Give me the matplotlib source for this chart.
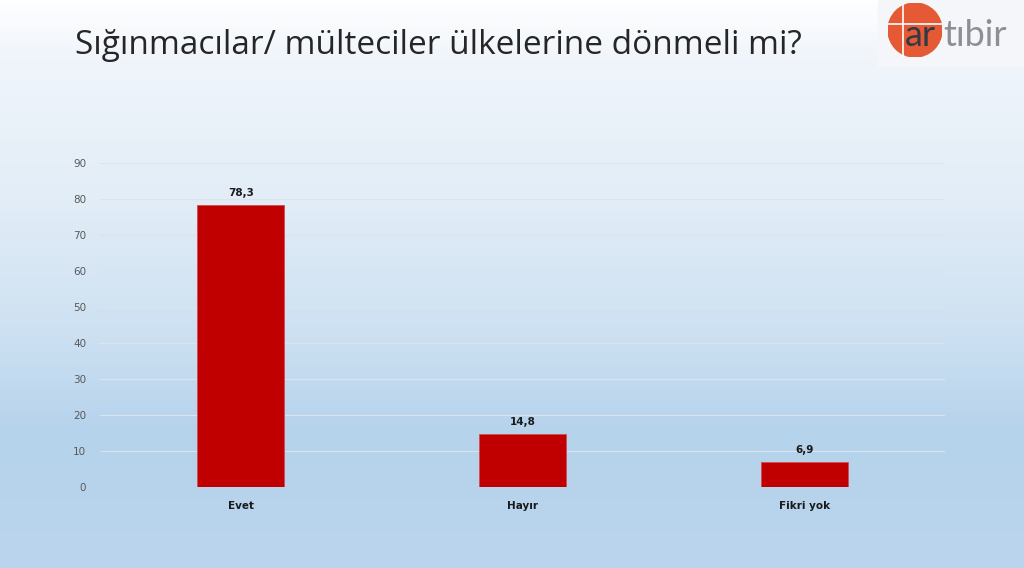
import matplotlib
matplotlib.use("Agg")
import matplotlib.pyplot as plt
import numpy as np
from matplotlib.patches import Circle, Rectangle

categories = ["Evet", "Hayır", "Fikri yok"]
values = [78.3, 14.8, 6.9]
value_labels = ["78,3", "14,8", "6,9"]
yticks = [0, 10, 20, 30, 40, 50, 60, 70, 80, 90]
title = "Sığınmacılar/ mülteciler ülkelerine dönmeli mi?"

W, H = 1024, 568
fig = plt.figure(figsize=(W / 100, H / 100), dpi=100)

# background gradient (piecewise, top to bottom)
bg = fig.add_axes([0, 0, 1, 1], zorder=0)
ys = np.array([0, 60, 200, 330, 430, 568]) / H
cols = np.array([[255, 255, 255], [240, 245, 251], [226, 237, 247], [206, 225, 242],
                 [182, 211, 236], [186, 213, 237]]) / 255
t = np.linspace(0, 1, 568)
grad = np.stack([np.interp(t, ys, cols[:, k]) for k in range(3)], axis=1)[:, None, :]
bg.imshow(grad, aspect="auto", extent=[0, 1, 0, 1], origin="upper")
bg.set_xlim(0, 1)
bg.set_ylim(0, 1)
bg.axis("off")

# logo
bg.add_patch(Rectangle((878 / W, 1 - 66 / H), (W - 878) / W, 66 / H, color="#f4f6f9", zorder=2))
circ_cx, circ_cy, r = 915, 30, 27
ax_logo = fig.add_axes([(circ_cx - r) / W, 1 - (circ_cy + r) / H, 2 * r / W, 2 * r / H], zorder=3)
ax_logo.add_patch(Circle((0.5, 0.5), 0.5, color="#e55a35"))
ax_logo.plot([0.28, 0.28], [0.0, 1.0], color="white", lw=1.2)
ax_logo.plot([0.0, 1.0], [0.62, 0.62], color="white", lw=1.2)
ax_logo.set_xlim(0, 1)
ax_logo.set_ylim(0, 1)
ax_logo.axis("off")
fig.text(905 / W, 1 - 46 / H, "ar", fontsize=26, color="#333a44", va="baseline", ha="left", zorder=5,
         family="Lato")
fig.text(943 / W, 1 - 46 / H, "tıbir", fontsize=26, color="#8c9096", va="baseline", ha="left", zorder=5,
         family="Lato")

fig.text(75 / W, 1 - 46 / H, title, fontsize=24, color="#262626", va="center", ha="left",
         family="Open Sans")

ax = fig.add_axes([100 / W, 1 - 487 / H, 845 / W, (487 - 163) / H], zorder=1)
ax.patch.set_alpha(0)
x = np.arange(len(categories))
bars = ax.bar(x, values, width=0.31, color="#c00000", edgecolor="#d84a4a", linewidth=0.6)
for xi, v, lab in zip(x, values, value_labels):
    ax.text(xi, v + 2.0, lab, ha="center", va="bottom", fontsize=7.5, fontweight="bold", color="#1a1a1a")
ax.set_xlim(-0.5, 2.5)
ax.set_ylim(0, 90)
ax.set_yticks(yticks)
ax.set_xticks(x)
ax.set_xticklabels(categories, fontsize=7.5, fontweight="bold", color="#1a1a1a")
ax.tick_params(axis="y", labelsize=7.5, labelcolor="#595959", length=0, pad=10)
ax.tick_params(axis="x", length=0, pad=10)
ax.grid(axis="y", color="#d9e4ef", linewidth=0.8)
ax.set_axisbelow(True)
for s in ax.spines.values():
    s.set_visible(False)

fig.savefig("out.png", dpi=100)
